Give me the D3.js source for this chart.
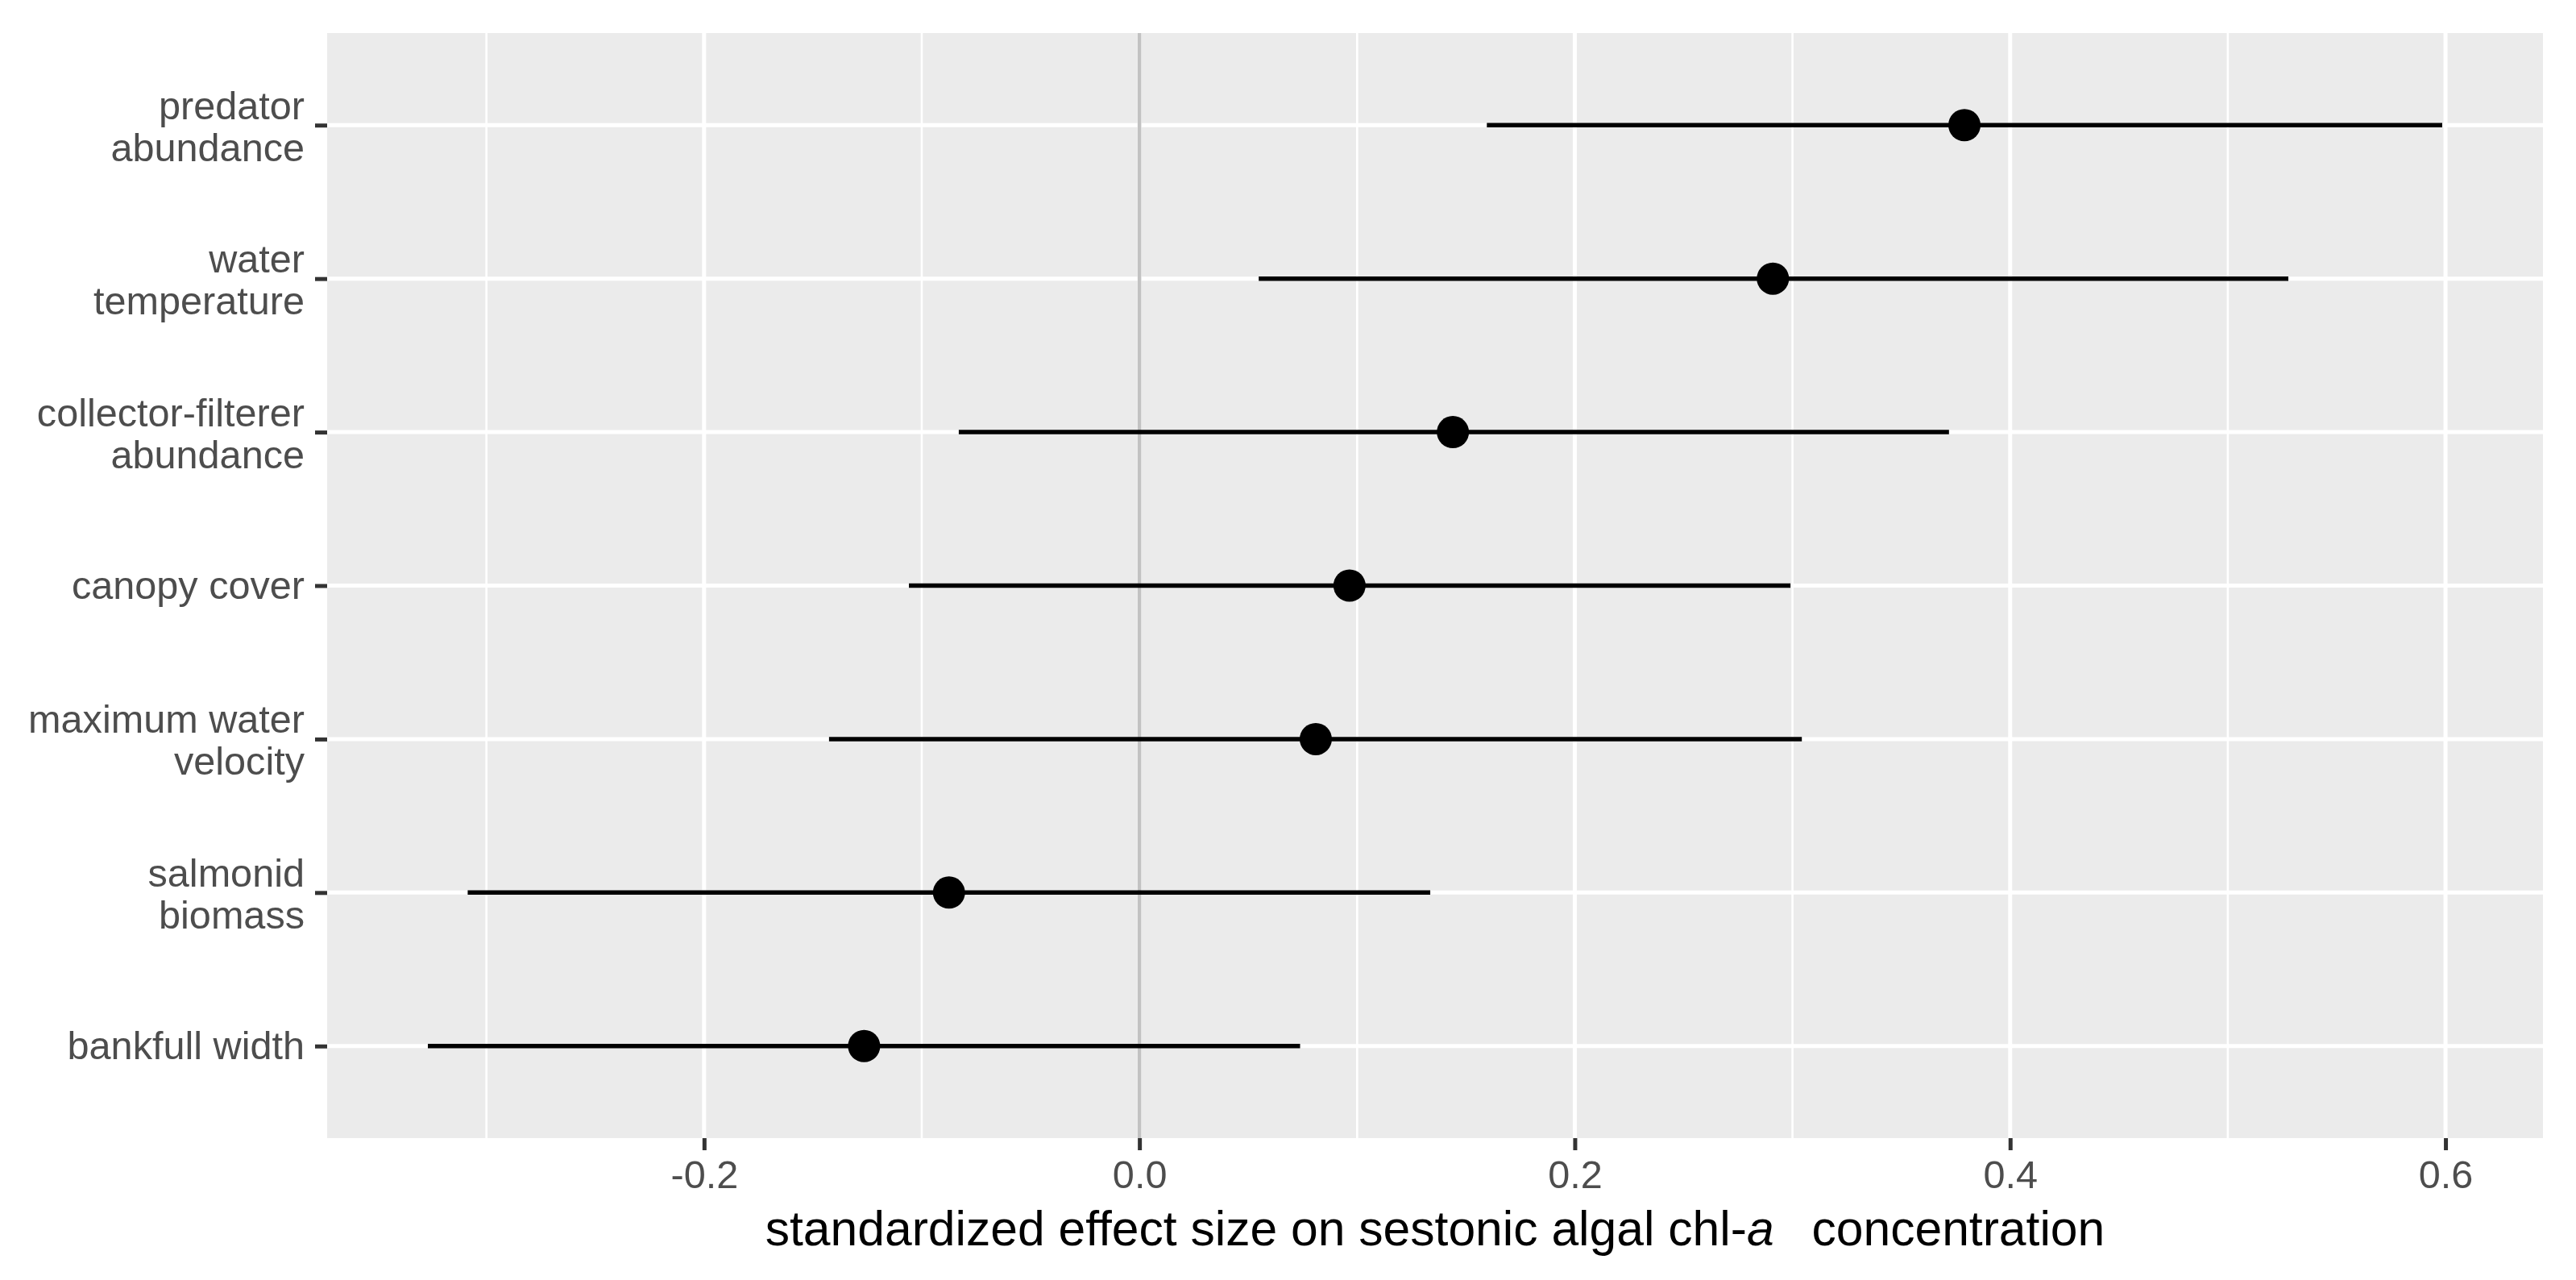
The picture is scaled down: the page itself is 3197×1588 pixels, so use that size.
<!DOCTYPE html>
<html>
<head>
<meta charset="utf-8">
<script src="https://d3js.org/d3.v7.min.js"></script>
<style>
  body { margin: 0; background: #ffffff; }
  svg { display: block; font-family: "Liberation Sans", Arial, Helvetica, sans-serif; }
</style>
</head>
<body>
<div id="chart"></div>
<script>
// Predictors, top to bottom as they appear on the y axis
const predictors = [
    "predator\nabundance",
    "water\ntemperature",
    "collector-filterer\nabundance",
    "canopy cover",
    "maximum water\nvelocity",
    "salmonid\nbiomass",
    "bankfull width"
];
// Posterior mean and interval ends
const estimates = [0.379, 0.291, 0.144, 0.0965, 0.081, -0.0875, -0.1265];
const lowerCI   = [0.1596, 0.0548, -0.083, -0.1059, -0.1426, -0.3086, -0.3269];
const upperCI   = [0.5985, 0.5278, 0.3719, 0.2991, 0.3043, 0.1336, 0.0738];

const xMajorTicks = [-0.2, 0.0, 0.2, 0.4, 0.6];
const xMinorTicks = [-0.3, -0.1, 0.1, 0.3, 0.5];

function drawForest({
    containerId,
    width,
    height,
    margin,
    tickFont = 48.6,     // axis text, px
    titleFont = 60.6     // axis title, px
}) {
    const svg = d3.select(containerId)
        .append("svg")
        .attr("width", width)
        .attr("height", height);

    const rows = predictors.map((p, i) => ({
        name: p, est: estimates[i], lo: lowerCI[i], hi: upperCI[i]
    }));

    // ggplot-style 5% expansion of the data range
    const lo = d3.min(lowerCI), hi = d3.max(upperCI);
    const pad = (hi - lo) * 0.05;

    const x = d3.scaleLinear()
        .domain([lo - pad, hi + pad])
        .range([margin.left, width - margin.right]);

    const y = d3.scalePoint()
        .domain(predictors)
        .range([margin.top, height - margin.bottom])
        .padding(0.6);

    const panelW = width - margin.left - margin.right;
    const panelH = height - margin.top - margin.bottom;

    // Panel background
    svg.append("rect")
        .attr("x", margin.left)
        .attr("y", margin.top)
        .attr("width", panelW)
        .attr("height", panelH)
        .attr("fill", "#EBEBEB");

    const grid = svg.append("g").attr("class", "grid");

    // Minor vertical gridlines
    grid.selectAll(".minor")
        .data(xMinorTicks)
        .enter()
        .append("line")
        .attr("x1", d => x(d)).attr("x2", d => x(d))
        .attr("y1", margin.top).attr("y2", height - margin.bottom)
        .attr("stroke", "#ffffff")
        .attr("stroke-width", 2.6);

    // Major vertical gridlines
    grid.selectAll(".major-x")
        .data(xMajorTicks)
        .enter()
        .append("line")
        .attr("x1", d => x(d)).attr("x2", d => x(d))
        .attr("y1", margin.top).attr("y2", height - margin.bottom)
        .attr("stroke", "#ffffff")
        .attr("stroke-width", 5);

    // Major horizontal gridlines, one per predictor
    grid.selectAll(".major-y")
        .data(predictors)
        .enter()
        .append("line")
        .attr("x1", margin.left).attr("x2", width - margin.right)
        .attr("y1", d => y(d)).attr("y2", d => y(d))
        .attr("stroke", "#ffffff")
        .attr("stroke-width", 5);

    // Reference line at zero
    svg.append("line")
        .attr("x1", x(0)).attr("x2", x(0))
        .attr("y1", margin.top).attr("y2", height - margin.bottom)
        .attr("stroke", "#C2C2C2")
        .attr("stroke-width", 4.5);

    // Interval lines
    svg.selectAll(".range")
        .data(rows)
        .enter()
        .append("line")
        .attr("class", "range")
        .attr("x1", d => x(d.lo))
        .attr("x2", d => x(d.hi))
        .attr("y1", d => y(d.name))
        .attr("y2", d => y(d.name))
        .attr("stroke", "#000000")
        .attr("stroke-width", 5.5);

    // Point estimates
    svg.selectAll(".est")
        .data(rows)
        .enter()
        .append("circle")
        .attr("class", "est")
        .attr("cx", d => x(d.est))
        .attr("cy", d => y(d.name))
        .attr("r", 20)
        .attr("fill", "#000000");

    // X axis
    const xAxis = svg.append("g")
        .attr("transform", `translate(0, ${height - margin.bottom})`)
        .call(d3.axisBottom(x)
            .tickValues(xMajorTicks)
            .tickSize(15)
            .tickPadding(12)
            .tickFormat(d => d.toFixed(1)));
    xAxis.select(".domain").remove();
    xAxis.selectAll(".tick line").attr("stroke", "#333333").attr("stroke-width", 5);
    xAxis.selectAll(".tick text")
        .attr("fill", "#4D4D4D")
        .style("font-size", tickFont + "px")
        .style("font-family", "'Liberation Sans', Arial, Helvetica, sans-serif");

    // Y axis, labels may span two lines
    const yAxis = svg.append("g")
        .attr("transform", `translate(${margin.left}, 0)`)
        .call(d3.axisLeft(y).tickSize(15).tickPadding(13));
    yAxis.select(".domain").remove();
    yAxis.selectAll(".tick line").attr("stroke", "#333333").attr("stroke-width", 5);

    const lineHeight = 52;
    yAxis.selectAll(".tick text")
        .attr("fill", "#4D4D4D")
        .attr("dy", null)
        .style("font-size", tickFont + "px")
        .style("font-family", "'Liberation Sans', Arial, Helvetica, sans-serif")
        .each(function (d) {
            const lines = d.split("\n");
            const t = d3.select(this).text(null);
            lines.forEach((line, i) => {
                t.append("tspan")
                    .attr("x", -28)
                    .attr("y", i === 0 ? 16 - (lines.length - 1) * 24 : null)
                    .attr("dy", i === 0 ? null : lineHeight)
                    .text(line);
            });
        });

    // Axis title with italic "a"
    const title = svg.append("text")
        .attr("x", margin.left + panelW / 2)
        .attr("y", 1545)
        .attr("text-anchor", "middle")
        .attr("fill", "#000000")
        .style("font-size", titleFont + "px");
    title.append("tspan").text("standardized effect size on sestonic algal chl-");
    title.append("tspan").style("font-style", "italic").text("a");
    title.append("tspan").attr("dx", 30).text(" concentration");
}

drawForest({
    containerId: "#chart",
    width: 3197,
    height: 1588,
    margin: { top: 41, right: 41, bottom: 176, left: 406 }
});
</script>
</body>
</html>
